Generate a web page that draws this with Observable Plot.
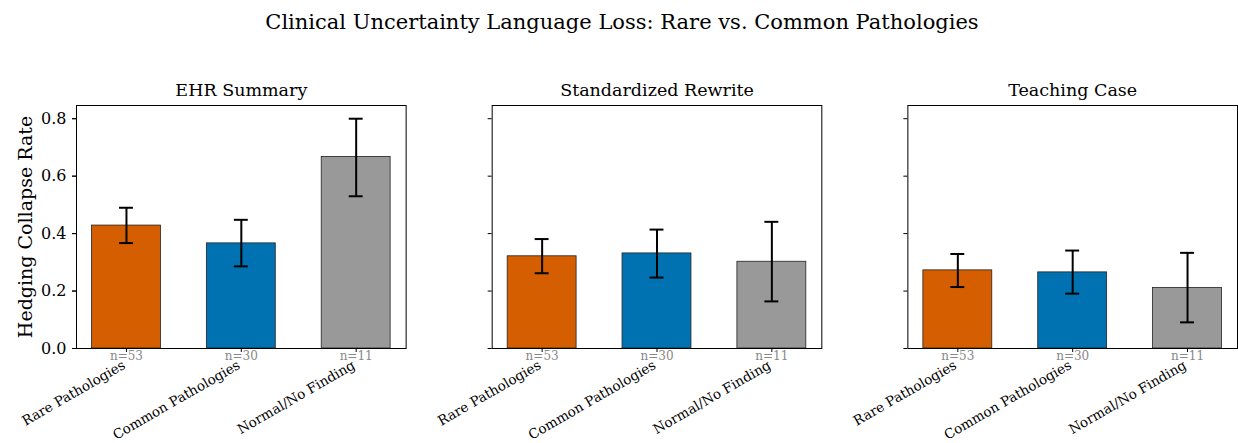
<!DOCTYPE html>
<html>
<head>
<meta charset="utf-8">
<script src="https://cdn.jsdelivr.net/npm/d3@7"></script>
<script src="https://cdn.jsdelivr.net/npm/@observablehq/plot@0.6"></script>
<style>
  html, body { margin: 0; padding: 0; background: #fff; }
  #wrap { width: 1238px; font-family: "DejaVu Serif", serif; }
  #title { height: 45px; line-height: 45px; text-align: center; font-size: 21px; color: #000; padding-left: 6px; }
</style>
</head>
<body>
<div id="wrap">
  <div id="title">Clinical Uncertainty Language Loss: Rare vs. Common Pathologies</div>
  <div id="chart"></div>
</div>
<script>
const styles = ["EHR Summary", "Standardized Rewrite", "Teaching Case"];
const categories = ["Rare Pathologies", "Common Pathologies", "Normal/No Finding"];
const counts = [53, 30, 11];
const colors = ["#D55E00", "#0072B2", "#999999"];
const rates = [
  [0.428, 0.366, 0.667],
  [0.321, 0.331, 0.302],
  [0.272, 0.265, 0.211]
];
const lower = [
  [0.367, 0.286, 0.530],
  [0.262, 0.247, 0.164],
  [0.214, 0.191, 0.091]
];
const upper = [
  [0.490, 0.448, 0.800],
  [0.381, 0.414, 0.441],
  [0.329, 0.341, 0.333]
];
const yTicks = [0, 0.2, 0.4, 0.6, 0.8];
const yLabel = "Hedging Collapse Rate";

const rows = styles.flatMap((s, i) => categories.map((c, j) => ({
  style: s, category: c, rate: rates[i][j], lo: lower[i][j], hi: upper[i][j], n: "n=" + counts[j]
})));

const font = "DejaVu Serif";
const chart = Plot.plot({
  width: 1238,
  height: 398,
  marginTop: 60,
  marginBottom: 95,
  marginLeft: 76,
  marginRight: 1,
  style: { fontFamily: font, background: "white" },
  fx: { domain: styles, paddingInner: 0.207, paddingOuter: 0, axis: null, round: false },
  x: { domain: categories, paddingInner: 0.4, paddingOuter: 0.135, axis: null, round: false },
  y: { domain: [0, 0.846], axis: null },
  color: { domain: categories, range: colors },
  marks: [
    Plot.barY(rows, { fx: "style", x: "category", y: "rate", fill: "category", stroke: "#222", strokeWidth: 0.8 }),
    Plot.ruleX(rows, { fx: "style", x: "category", y1: "lo", y2: "hi", stroke: "black", strokeWidth: 2 }),
    Plot.tickY(rows, { fx: "style", x: "category", y: "lo", stroke: "black", strokeWidth: 2, insetLeft: 27.5, insetRight: 27.5 }),
    Plot.tickY(rows, { fx: "style", x: "category", y: "hi", stroke: "black", strokeWidth: 2, insetLeft: 27.5, insetRight: 27.5 }),
    Plot.frame({ stroke: "black", strokeWidth: 1 }),
    Plot.axisY({ ticks: yTicks, tickFormat: ".1f", tickSize: 4, fontSize: 16, label: null, tickPadding: 6 }),
    Plot.axisY({ ticks: yTicks, tickFormat: () => "", tickSize: 4, label: null, facetAnchor: null }),
    Plot.axisX({ tickFormat: () => "", tickSize: 4, label: null }),
    Plot.text(rows, { fx: "style", x: "category", text: "n", frameAnchor: "bottom", dy: 11, fill: "#888", fontSize: 12 }),
    Plot.text(rows, { fx: "style", x: "category", text: "category", frameAnchor: "bottom", dy: 11, dx: -5, rotate: -30, textAnchor: "end", lineAnchor: "top", fontSize: 13.5 }),
    Plot.text(styles, { fx: d => d, text: d => d, frameAnchor: "top", dy: -15, lineAnchor: "middle", fontSize: 17.5 }),
    Plot.text([yLabel], { fx: () => styles[0], text: d => d, frameAnchor: "left", dx: -51, rotate: -90, textAnchor: "middle", lineAnchor: "middle", fontSize: 19 })
  ]
});
document.getElementById("chart").appendChild(chart);
</script>
</body>
</html>
